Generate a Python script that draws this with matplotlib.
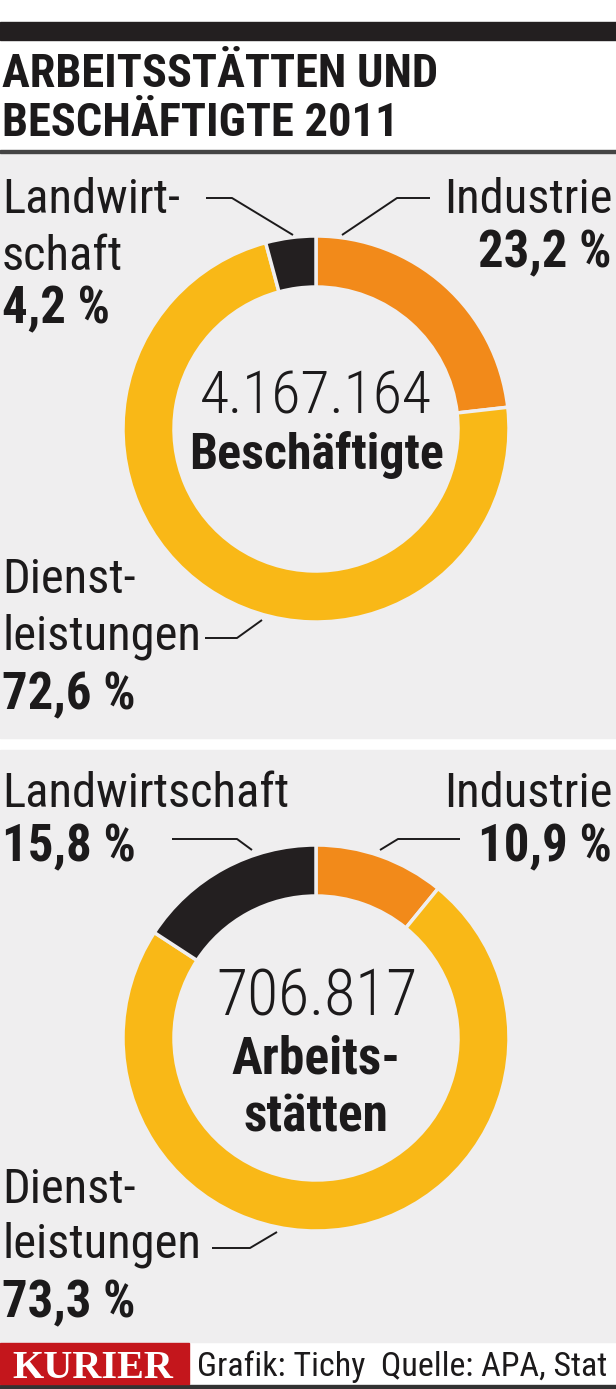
import matplotlib
matplotlib.use("Agg")
import matplotlib.pyplot as plt
from matplotlib import font_manager as fm
from matplotlib.patches import Rectangle

# ---------------- data ----------------
categories = ["Industrie", "Dienstleistungen", "Landwirtschaft"]
beschaeftigte_pct = [23.2, 72.6, 4.2]
arbeitsstaetten_pct = [10.9, 73.3, 15.8]
beschaeftigte_total = "4.167.164"
arbeitsstaetten_total = "706.817"
colors = ["#f28a1a", "#f9b817", "#231f20"]

title_lines = ["ARBEITSSTÄTTEN UND", "BESCHÄFTIGTE 2011"]
source = "Grafik: Tichy  Quelle: APA, Stat"

# ---------------- fonts ----------------
names = {f.name for f in fm.fontManager.ttflist}
cond = None
for cand in ["Roboto Condensed", "Liberation Sans Narrow", "Open Sans Condensed", "DejaVu Sans"]:
    if cand in names:
        cond = cand
        break
serif = "Liberation Serif" if "Liberation Serif" in names else "DejaVu Serif"

W, H = 616, 1389
BG = "#efeeef"
TXT = "#1c1a1b"

fig = plt.figure(figsize=(W / 100, H / 100), dpi=100)
ax = fig.add_axes([0, 0, 1, 1])

# panels
ax.add_patch(Rectangle((0, 0), W, H, color="white", zorder=0))
ax.add_patch(Rectangle((0, 153), W, 585, color=BG, zorder=0))
ax.add_patch(Rectangle((0, 750), W, 592, color=BG, zorder=0))
ax.add_patch(Rectangle((0, 22), W, 18, color="#231f20", zorder=1))
ax.add_patch(Rectangle((0, 150), W, 3, color="#444444", zorder=1))
ax.add_patch(Rectangle((0, 1385), W, 4, color="#333333", zorder=1))

# title
ax.text(2, 87, title_lines[0], fontsize=33.5, fontweight="bold", family=cond,
        color=TXT, va="baseline", ha="left")
ax.text(2, 136, title_lines[1], fontsize=33.5, fontweight="bold", family=cond,
        color=TXT, va="baseline", ha="left")

# donuts (y axis inverted -> startangle -90 & counterclock draw clockwise from top)
R, WID = 193, 51
for vals, cy in [(beschaeftigte_pct, 429), (arbeitsstaetten_pct, 1038)]:
    ax.pie(vals, colors=colors, center=(316, cy), radius=R, startangle=-90,
           counterclock=True,
           wedgeprops=dict(width=WID, edgecolor=BG, linewidth=2.5))

def fmt(v):
    return f"{v:.1f}".replace(".", ",") + " %"

LBL = 35
PCT = 36.5

def label(x, y, s, ha="left", bold=False, size=LBL):
    ax.text(x, y, s, fontsize=size, fontweight="bold" if bold else "normal",
            family=cond, color=TXT, ha=ha, va="baseline")

def leader(xs, ys):
    ax.plot(xs, ys, color=TXT, lw=1.4, solid_capstyle="butt")

# ---- panel 1
label(2, 213, "Landwirt-")
label(2, 270, "schaft")
label(2, 323, fmt(beschaeftigte_pct[2]), bold=True, size=PCT)
label(613, 213, categories[0], ha="right")
label(612, 267, fmt(beschaeftigte_pct[0]), ha="right", bold=True, size=PCT)
label(2, 593, "Dienst-")
label(2, 649, "leistungen")
label(2, 709, fmt(beschaeftigte_pct[1]), bold=True, size=PCT)
leader([206, 232, 293], [198, 198, 235])
leader([342, 397, 430], [235, 198, 198])
leader([205, 237, 262], [638, 638, 620])

ax.text(316, 414, beschaeftigte_total, fontsize=43, fontweight="light", family=cond,
        color=TXT, ha="center", va="baseline")
ax.text(317, 469, "Beschäftigte", fontsize=36, fontweight="bold", family=cond,
        color=TXT, ha="center", va="baseline")

# ---- panel 2
label(2, 807, categories[2])
label(613, 807, categories[0], ha="right")
label(2, 861, fmt(arbeitsstaetten_pct[2]), bold=True, size=PCT)
label(612, 861, fmt(arbeitsstaetten_pct[0]), ha="right", bold=True, size=PCT)
label(2, 1203, "Dienst-")
label(2, 1258, "leistungen")
label(2, 1317, fmt(arbeitsstaetten_pct[1]), bold=True, size=PCT)
leader([172, 237, 252], [839, 839, 850])
leader([380, 398, 460], [850, 839, 839])
leader([212, 250, 277], [1248, 1248, 1232])

ax.text(317, 1015, arbeitsstaetten_total, fontsize=46, fontweight="light", family=cond,
        color=TXT, ha="center", va="baseline")
ax.text(316, 1073, "Arbeits-", fontsize=37, fontweight="bold", family=cond,
        color=TXT, ha="center", va="baseline")
ax.text(316, 1132, "stätten", fontsize=37, fontweight="bold", family=cond,
        color=TXT, ha="center", va="baseline")

# ---- footer
ax.add_patch(Rectangle((0, 1343), 189, 41, color="#c4161c", zorder=1))
ax.text(93, 1378, "KURIER", fontsize=29, fontweight="bold", family=serif,
        color="white", ha="center", va="baseline")
ax.text(197, 1376, source, fontsize=24.5, family=cond, color=TXT,
        ha="left", va="baseline")

ax.set_xlim(0, W)
ax.set_ylim(H, 0)
ax.set_aspect("equal")
ax.axis("off")

fig.savefig("out.png", dpi=100, facecolor="white")
